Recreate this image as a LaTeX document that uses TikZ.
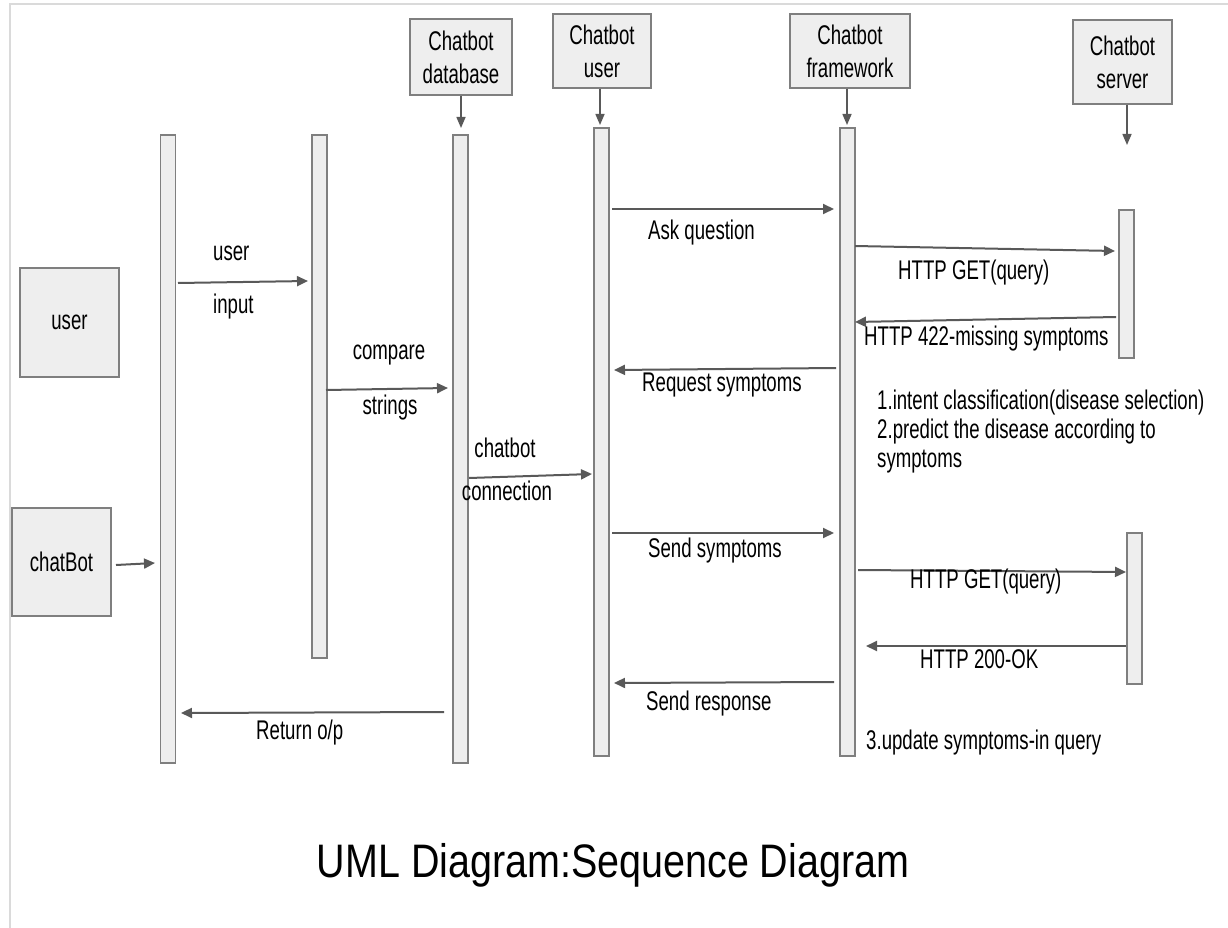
\documentclass[tikz,border=0pt]{standalone}
\usepackage{fontspec}
\setmainfont{Liberation Sans}[FakeStretch=0.84]
\newfontfamily\narrowfont{Liberation Sans}[FakeStretch=0.69]
\usetikzlibrary{arrows.meta}
\definecolor{boxfill}{HTML}{EEEEEE}
\definecolor{boxline}{HTML}{7F7F7F}
\definecolor{arr}{HTML}{595959}
\definecolor{framecol}{HTML}{DADADA}
\begin{document}
\begin{tikzpicture}[x=1pt,y=-1pt,
  hdr/.style={draw=boxline,fill=boxfill,line width=1.5pt,align=center,
    font=\narrowfont\fontsize{27}{33}\selectfont,inner sep=0},
  bar/.style={draw=boxline,fill=boxfill,line width=1.5pt,inner sep=0,minimum width=15pt},
  msg/.style={draw=arr,line width=2pt,-{Triangle[length=11pt,width=10pt]}},
  harr/.style={draw=arr,line width=1.5pt,-{Triangle[length=11pt,width=9pt]}},
  lbl/.style={font=\narrowfont\fontsize{27}{32}\selectfont,inner sep=0,text height=19pt,text depth=5pt,anchor=west},
  lblc/.style={lbl,anchor=center},
  framestyle/.style={draw=framecol,line width=2.5pt}
]
\useasboundingbox (0,0) rectangle (1228,928);
% frame
\coordinate (fa) at (10,4);
\coordinate (fb) at (1228,4);
\coordinate (fc) at (10,928);
\draw[framestyle] (fb) -- (fa) -- (fc);

% header boxes
\node[hdr,minimum width=102pt,minimum height=76pt] (hdb) at (461,57) {Chatbot\\database};
\node[hdr,minimum width=98pt,minimum height=74pt] (huser) at (602,51) {Chatbot\\user};
\node[hdr,minimum width=120pt,minimum height=74pt] (hfw) at (850,51) {Chatbot\\framework};
\node[hdr,minimum width=99pt,minimum height=84pt] (hsrv) at (1122.5,62) {Chatbot\\server};

% left boxes
\node[hdr,minimum width=99pt,minimum height=109pt] (uact) at (69.5,322.5) {user};
\node[hdr,minimum width=99pt,minimum height=108pt] (cact) at (61.5,562) {chatBot};

% lifelines / activation bars
\node[bar,minimum height=628pt] (b1) at (168,449) {};
\node[bar,minimum height=523pt] (b2) at (319.5,396.5) {};
\node[bar,minimum height=628pt] (b3) at (460.5,449) {};
\node[bar,minimum height=628pt] (b4) at (601.5,442) {};
\node[bar,minimum height=628pt] (b5) at (847.5,442) {};
\node[bar,minimum height=148pt] (s1) at (1126.5,284) {};
\node[bar,minimum height=151pt] (s2) at (1134.5,608.5) {};

% header arrows
\coordinate (tdb) at (461,128);
\coordinate (tuser) at (600,125);
\coordinate (tfw) at (847,125);
\coordinate (tsrv) at (1127,145);
\draw[harr] (hdb.south -| tdb) -- (tdb);
\draw[harr] (huser.south -| tuser) -- (tuser);
\draw[harr] (hfw.south -| tfw) -- (tfw);
\draw[harr] (hsrv.south -| tsrv) -- (tsrv);

% chatBot to first lifeline
\coordinate (cb1) at (116,565);
\coordinate (cb2) at (155,563);
\draw[msg] (cb1) -- (cb2);

% messages
\coordinate (m1a) at (178,283);  \coordinate (m1b) at (308,281);
\coordinate (m2a) at (326,390);  \coordinate (m2b) at (448,388);
\coordinate (m3a) at (469,478);  \coordinate (m3b) at (592,474);
\coordinate (m4a) at (612,209);  \coordinate (m4b) at (834,209);
\coordinate (m5a) at (855,246);  \coordinate (m5b) at (1115,251);
\coordinate (m6a) at (1116,317); \coordinate (m6b) at (855,322);
\coordinate (m7a) at (836,368);  \coordinate (m7b) at (614,370);
\coordinate (m9a) at (612,533);  \coordinate (m9b) at (834,533);
\coordinate (m10a) at (858,570); \coordinate (m10b) at (1126,572);
\coordinate (m11a) at (1126,646); \coordinate (m11b) at (866,646);
\coordinate (m12a) at (834,682); \coordinate (m12b) at (614,683);
\coordinate (m13a) at (444,712); \coordinate (m13b) at (181,713);
\draw[msg] (m1a) -- (m1b);
\draw[msg] (m2a) -- (m2b);
\draw[msg] (m3a) -- (m3b);
\draw[msg] (m4a) -- (m4b);
\draw[msg] (m5a) -- (m5b);
\draw[msg] (m6a) -- (m6b);
\draw[msg] (m7a) -- (m7b);
\draw[msg] (m9a) -- (m9b);
\draw[msg] (m10a) -- (m10b);
\draw[msg] (m11a) -- (m11b);
\draw[msg] (m12a) -- (m12b);
\draw[msg] (m13a) -- (m13b);

% labels
\node[lbl] (l1) at (213,253) {user};
\node[lbl] (l2) at (213,306) {input};
\node[lblc] (l3) at (389,352) {compare};
\node[lblc] (l4) at (390,407) {strings};
\node[lblc] (l5) at (505,450) {chatbot};
\node[lblc] (l6) at (507,493) {connection};
\node[lbl] (l7) at (648,232) {Ask question};
\node[lbl] (l8) at (898,272) {HTTP GET(query)};
\node[lbl] (l9) at (864,338) {HTTP 422-missing symptoms};
\node[lbl] (l10) at (642,384) {Request symptoms};
\node[lbl] (n1) at (877,402) {1.intent classification(disease selection)};
\node[lbl] (n2) at (877,431) {2.predict the disease according to};
\node[lbl] (n3) at (877,460) {symptoms};
\node[lbl] (l11) at (648,550) {Send symptoms};
\node[lbl] (l12) at (910,581) {HTTP GET(query)};
\node[lbl] (l13) at (920,661) {HTTP 200-OK};
\node[lbl] (l14) at (646,703) {Send response};
\node[lbl] (l15) at (256,732) {Return o/p};
\node[lbl] (n4) at (866,742) {3.update symptoms-in query};

% title
\node[font=\fontsize{47}{50}\selectfont,inner sep=0] (title) at (613,865) {UML Diagram:Sequence Diagram};
\end{tikzpicture}
\end{document}
